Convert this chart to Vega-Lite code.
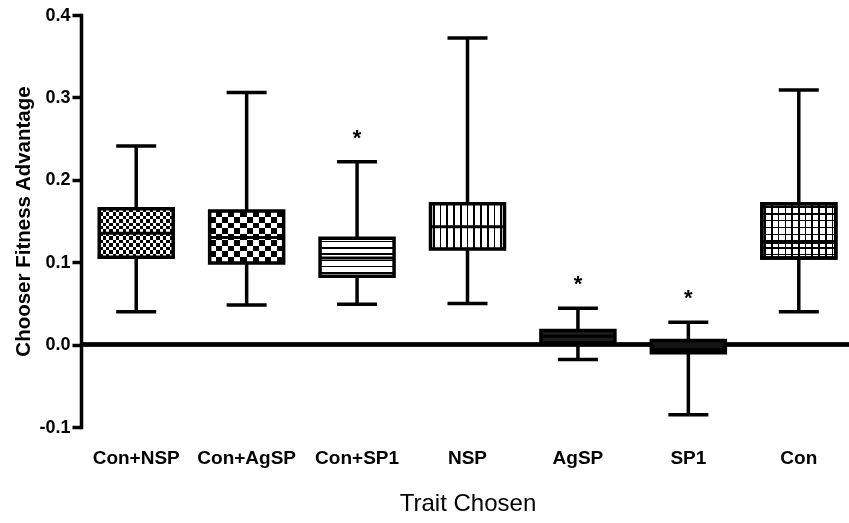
{
  "$schema": "https://vega.github.io/schema/vega-lite/v6.json",
  "width": 768,
  "height": 412,
  "autosize": {"type": "none"},
  "padding": {"left": 81, "top": 15, "right": 0, "bottom": 96},
  "background": "white",
  "config": {
    "view": {"stroke": null},
    "font": "Liberation Sans",
    "axis": {"grid": false}
  },
  "data": {
    "values": [
      {"trait": "Con+NSP", "min": 0.040, "q1": 0.106, "median": 0.135, "q3": 0.165, "max": 0.241, "sig": ""},
      {"trait": "Con+AgSP", "min": 0.048, "q1": 0.099, "median": 0.130, "q3": 0.162, "max": 0.306, "sig": ""},
      {"trait": "Con+SP1", "min": 0.049, "q1": 0.083, "median": 0.105, "q3": 0.129, "max": 0.222, "sig": "*"},
      {"trait": "NSP", "min": 0.050, "q1": 0.116, "median": 0.143, "q3": 0.171, "max": 0.372, "sig": ""},
      {"trait": "AgSP", "min": -0.018, "q1": 0.002, "median": 0.010, "q3": 0.017, "max": 0.044, "sig": "*"},
      {"trait": "SP1", "min": -0.085, "q1": -0.010, "median": -0.006, "q3": 0.005, "max": 0.027, "sig": "*"},
      {"trait": "Con", "min": 0.040, "q1": 0.105, "median": 0.124, "q3": 0.171, "max": 0.309, "sig": ""}
    ]
  },
  "encoding": {
    "x": {
      "field": "trait",
      "type": "nominal",
      "sort": null,
      "scale": {"range": [0, 773], "paddingInner": 0, "paddingOuter": 0},
      "axis": {
        "title": "Trait Chosen",
        "domain": false,
        "ticks": false,
        "labelAngle": 0,
        "labelFont": "Liberation Sans",
        "labelFontWeight": "bold",
        "labelFontSize": 19,
        "labelColor": "black",
        "labelPadding": 21,
        "titleFont": "Liberation Sans",
        "titleFontWeight": "normal",
        "titleFontSize": 24,
        "titleColor": "black",
        "titlePadding": 24
      }
    }
  },
  "layer": [
    {
      "mark": {"type": "rule", "color": "black", "strokeWidth": 3.5},
      "encoding": {
        "x": null,
        "y": {
          "datum": 0,
          "type": "quantitative",
          "scale": {"domain": [-0.1, 0.4], "nice": false, "zero": false},
          "axis": {
            "title": "Chooser Fitness Advantage",
            "values": [-0.1, 0, 0.1, 0.2, 0.3, 0.4],
            "format": ".1f",
            "labelExpr": "replace(datum.label, '\u2212', '-')",
            "domainColor": "black",
            "domainWidth": 3.5,
            "domainCap": "square",
            "tickColor": "black",
            "tickWidth": 3.5,
            "tickSize": 9,
            "labelFont": "Liberation Sans",
            "labelFontWeight": "bold",
            "labelFontSize": 18,
            "labelColor": "black",
            "labelPadding": 2,
            "titleFont": "Liberation Sans",
            "titleFontWeight": "bold",
            "titleFontSize": 20.5,
            "titleColor": "black",
            "titlePadding": 5
          }
        }
      }
    },
    {
      "mark": {"type": "rule", "color": "black", "strokeWidth": 3.5},
      "encoding": {
        "y": {"field": "min", "type": "quantitative"},
        "y2": {"field": "max"}
      }
    },
    {
      "mark": {"type": "tick", "color": "black", "size": 40, "thickness": 3.5, "opacity": 1},
      "encoding": {"y": {"field": "min", "type": "quantitative"}}
    },
    {
      "mark": {"type": "tick", "color": "black", "size": 40, "thickness": 3.5, "opacity": 1},
      "encoding": {"y": {"field": "max", "type": "quantitative"}}
    },
    {
      "transform": [{"filter": "datum.trait === 'Con+NSP'"}],
      "mark": {
        "type": "bar", "width": 74, "stroke": "black", "strokeWidth": 3.5,
        "fill": {
          "gradient": "linear", "x1": 0, "y1": 0, "x2": 1, "y2": 0,
          "stops": [
            {"offset": 0, "color": "white"}, {"offset": 0.0455, "color": "white"},
            {"offset": 0.0455, "color": "black"}, {"offset": 0.0909, "color": "black"},
            {"offset": 0.0909, "color": "white"}, {"offset": 0.1364, "color": "white"},
            {"offset": 0.1364, "color": "black"}, {"offset": 0.1818, "color": "black"},
            {"offset": 0.1818, "color": "white"}, {"offset": 0.2273, "color": "white"},
            {"offset": 0.2273, "color": "black"}, {"offset": 0.2727, "color": "black"},
            {"offset": 0.2727, "color": "white"}, {"offset": 0.3182, "color": "white"},
            {"offset": 0.3182, "color": "black"}, {"offset": 0.3636, "color": "black"},
            {"offset": 0.3636, "color": "white"}, {"offset": 0.4091, "color": "white"},
            {"offset": 0.4091, "color": "black"}, {"offset": 0.4545, "color": "black"},
            {"offset": 0.4545, "color": "white"}, {"offset": 0.5, "color": "white"},
            {"offset": 0.5, "color": "black"}, {"offset": 0.5455, "color": "black"},
            {"offset": 0.5455, "color": "white"}, {"offset": 0.5909, "color": "white"},
            {"offset": 0.5909, "color": "black"}, {"offset": 0.6364, "color": "black"},
            {"offset": 0.6364, "color": "white"}, {"offset": 0.6818, "color": "white"},
            {"offset": 0.6818, "color": "black"}, {"offset": 0.7273, "color": "black"},
            {"offset": 0.7273, "color": "white"}, {"offset": 0.7727, "color": "white"},
            {"offset": 0.7727, "color": "black"}, {"offset": 0.8182, "color": "black"},
            {"offset": 0.8182, "color": "white"}, {"offset": 0.8636, "color": "white"},
            {"offset": 0.8636, "color": "black"}, {"offset": 0.9091, "color": "black"},
            {"offset": 0.9091, "color": "white"}, {"offset": 0.9545, "color": "white"},
            {"offset": 0.9545, "color": "black"}, {"offset": 1, "color": "black"}
          ]
        }
      },
      "encoding": {"y": {"field": "q1", "type": "quantitative"}, "y2": {"field": "q3"}}
    },
    {
      "transform": [{"filter": "datum.trait === 'Con+NSP'"}],
      "mark": {
        "type": "bar", "width": 74, "stroke": "black", "strokeWidth": 3.5, "blend": "difference",
        "fill": {
          "gradient": "linear", "x1": 0, "y1": 0, "x2": 0, "y2": 1,
          "stops": [
            {"offset": 0, "color": "black"}, {"offset": 0.0714, "color": "black"},
            {"offset": 0.0714, "color": "white"}, {"offset": 0.1429, "color": "white"},
            {"offset": 0.1429, "color": "black"}, {"offset": 0.2143, "color": "black"},
            {"offset": 0.2143, "color": "white"}, {"offset": 0.2857, "color": "white"},
            {"offset": 0.2857, "color": "black"}, {"offset": 0.3571, "color": "black"},
            {"offset": 0.3571, "color": "white"}, {"offset": 0.4286, "color": "white"},
            {"offset": 0.4286, "color": "black"}, {"offset": 0.5, "color": "black"},
            {"offset": 0.5, "color": "white"}, {"offset": 0.5714, "color": "white"},
            {"offset": 0.5714, "color": "black"}, {"offset": 0.6429, "color": "black"},
            {"offset": 0.6429, "color": "white"}, {"offset": 0.7143, "color": "white"},
            {"offset": 0.7143, "color": "black"}, {"offset": 0.7857, "color": "black"},
            {"offset": 0.7857, "color": "white"}, {"offset": 0.8571, "color": "white"},
            {"offset": 0.8571, "color": "black"}, {"offset": 0.9286, "color": "black"},
            {"offset": 0.9286, "color": "white"}, {"offset": 1, "color": "white"}
          ]
        }
      },
      "encoding": {"y": {"field": "q1", "type": "quantitative"}, "y2": {"field": "q3"}}
    },
    {
      "transform": [{"filter": "datum.trait === 'Con+AgSP'"}],
      "mark": {
        "type": "bar", "width": 74, "stroke": "black", "strokeWidth": 3.5,
        "fill": {
          "gradient": "linear", "x1": 0, "y1": 0, "x2": 1, "y2": 0,
          "stops": [
            {"offset": 0, "color": "white"}, {"offset": 0.0833, "color": "white"},
            {"offset": 0.0833, "color": "black"}, {"offset": 0.1667, "color": "black"},
            {"offset": 0.1667, "color": "white"}, {"offset": 0.25, "color": "white"},
            {"offset": 0.25, "color": "black"}, {"offset": 0.3333, "color": "black"},
            {"offset": 0.3333, "color": "white"}, {"offset": 0.4167, "color": "white"},
            {"offset": 0.4167, "color": "black"}, {"offset": 0.5, "color": "black"},
            {"offset": 0.5, "color": "white"}, {"offset": 0.5833, "color": "white"},
            {"offset": 0.5833, "color": "black"}, {"offset": 0.6667, "color": "black"},
            {"offset": 0.6667, "color": "white"}, {"offset": 0.75, "color": "white"},
            {"offset": 0.75, "color": "black"}, {"offset": 0.8333, "color": "black"},
            {"offset": 0.8333, "color": "white"}, {"offset": 0.9167, "color": "white"},
            {"offset": 0.9167, "color": "black"}, {"offset": 1, "color": "black"}
          ]
        }
      },
      "encoding": {"y": {"field": "q1", "type": "quantitative"}, "y2": {"field": "q3"}}
    },
    {
      "transform": [{"filter": "datum.trait === 'Con+AgSP'"}],
      "mark": {
        "type": "bar", "width": 74, "stroke": "black", "strokeWidth": 3.5, "blend": "difference",
        "fill": {
          "gradient": "linear", "x1": 0, "y1": 0, "x2": 0, "y2": 1,
          "stops": [
            {"offset": 0, "color": "black"}, {"offset": 0.1111, "color": "black"},
            {"offset": 0.1111, "color": "white"}, {"offset": 0.2222, "color": "white"},
            {"offset": 0.2222, "color": "black"}, {"offset": 0.3333, "color": "black"},
            {"offset": 0.3333, "color": "white"}, {"offset": 0.4444, "color": "white"},
            {"offset": 0.4444, "color": "black"}, {"offset": 0.5556, "color": "black"},
            {"offset": 0.5556, "color": "white"}, {"offset": 0.6667, "color": "white"},
            {"offset": 0.6667, "color": "black"}, {"offset": 0.7778, "color": "black"},
            {"offset": 0.7778, "color": "white"}, {"offset": 0.8889, "color": "white"},
            {"offset": 0.8889, "color": "black"}, {"offset": 1, "color": "black"}
          ]
        }
      },
      "encoding": {"y": {"field": "q1", "type": "quantitative"}, "y2": {"field": "q3"}}
    },
    {
      "transform": [{"filter": "datum.trait === 'Con+SP1'"}],
      "mark": {
        "type": "bar", "width": 74, "stroke": "black", "strokeWidth": 3.5,
        "fill": {
          "gradient": "linear", "x1": 0, "y1": 0, "x2": 0, "y2": 1,
          "stops": [
            {"offset": 0, "color": "white"}, {"offset": 0.063, "color": "white"},
            {"offset": 0.063, "color": "black"}, {"offset": 0.103, "color": "black"},
            {"offset": 0.103, "color": "white"}, {"offset": 0.23, "color": "white"},
            {"offset": 0.23, "color": "black"}, {"offset": 0.27, "color": "black"},
            {"offset": 0.27, "color": "white"}, {"offset": 0.397, "color": "white"},
            {"offset": 0.397, "color": "black"}, {"offset": 0.437, "color": "black"},
            {"offset": 0.437, "color": "white"}, {"offset": 0.563, "color": "white"},
            {"offset": 0.563, "color": "black"}, {"offset": 0.603, "color": "black"},
            {"offset": 0.603, "color": "white"}, {"offset": 0.73, "color": "white"},
            {"offset": 0.73, "color": "black"}, {"offset": 0.77, "color": "black"},
            {"offset": 0.77, "color": "white"}, {"offset": 0.897, "color": "white"},
            {"offset": 0.897, "color": "black"}, {"offset": 0.937, "color": "black"},
            {"offset": 0.937, "color": "white"}, {"offset": 1, "color": "white"}
          ]
        }
      },
      "encoding": {"y": {"field": "q1", "type": "quantitative"}, "y2": {"field": "q3"}}
    },
    {
      "transform": [{"filter": "datum.trait === 'NSP'"}],
      "mark": {
        "type": "bar", "width": 74, "stroke": "black", "strokeWidth": 3.5,
        "fill": {
          "gradient": "linear", "x1": 0, "y1": 0, "x2": 1, "y2": 0,
          "stops": [
            {"offset": 0, "color": "white"}, {"offset": 0.034, "color": "white"},
            {"offset": 0.034, "color": "black"}, {"offset": 0.057, "color": "black"},
            {"offset": 0.057, "color": "white"}, {"offset": 0.125, "color": "white"},
            {"offset": 0.125, "color": "black"}, {"offset": 0.148, "color": "black"},
            {"offset": 0.148, "color": "white"}, {"offset": 0.216, "color": "white"},
            {"offset": 0.216, "color": "black"}, {"offset": 0.239, "color": "black"},
            {"offset": 0.239, "color": "white"}, {"offset": 0.307, "color": "white"},
            {"offset": 0.307, "color": "black"}, {"offset": 0.33, "color": "black"},
            {"offset": 0.33, "color": "white"}, {"offset": 0.398, "color": "white"},
            {"offset": 0.398, "color": "black"}, {"offset": 0.421, "color": "black"},
            {"offset": 0.421, "color": "white"}, {"offset": 0.489, "color": "white"},
            {"offset": 0.489, "color": "black"}, {"offset": 0.512, "color": "black"},
            {"offset": 0.512, "color": "white"}, {"offset": 0.58, "color": "white"},
            {"offset": 0.58, "color": "black"}, {"offset": 0.603, "color": "black"},
            {"offset": 0.603, "color": "white"}, {"offset": 0.671, "color": "white"},
            {"offset": 0.671, "color": "black"}, {"offset": 0.694, "color": "black"},
            {"offset": 0.694, "color": "white"}, {"offset": 0.762, "color": "white"},
            {"offset": 0.762, "color": "black"}, {"offset": 0.785, "color": "black"},
            {"offset": 0.785, "color": "white"}, {"offset": 0.853, "color": "white"},
            {"offset": 0.853, "color": "black"}, {"offset": 0.876, "color": "black"},
            {"offset": 0.876, "color": "white"}, {"offset": 0.944, "color": "white"},
            {"offset": 0.944, "color": "black"}, {"offset": 0.967, "color": "black"},
            {"offset": 0.967, "color": "white"}, {"offset": 1, "color": "white"}
          ]
        }
      },
      "encoding": {"y": {"field": "q1", "type": "quantitative"}, "y2": {"field": "q3"}}
    },
    {
      "transform": [{"filter": "datum.trait === 'AgSP'"}],
      "mark": {"type": "bar", "width": 74, "fill": "#1c1c1c", "stroke": "black", "strokeWidth": 3.5},
      "encoding": {"y": {"field": "q1", "type": "quantitative"}, "y2": {"field": "q3"}}
    },
    {
      "transform": [{"filter": "datum.trait === 'SP1'"}],
      "mark": {"type": "bar", "width": 74, "fill": "#141414", "stroke": "black", "strokeWidth": 3.5},
      "encoding": {"y": {"field": "q1", "type": "quantitative"}, "y2": {"field": "q3"}}
    },
    {
      "transform": [{"filter": "datum.trait === 'Con'"}],
      "mark": {
        "type": "bar", "width": 74, "stroke": "black", "strokeWidth": 3.5,
        "fill": {
          "gradient": "linear", "x1": 0, "y1": 0, "x2": 1, "y2": 0,
          "stops": [
            {"offset": 0, "color": "white"}, {"offset": 0.034, "color": "white"},
            {"offset": 0.034, "color": "black"}, {"offset": 0.057, "color": "black"},
            {"offset": 0.057, "color": "white"}, {"offset": 0.125, "color": "white"},
            {"offset": 0.125, "color": "black"}, {"offset": 0.148, "color": "black"},
            {"offset": 0.148, "color": "white"}, {"offset": 0.216, "color": "white"},
            {"offset": 0.216, "color": "black"}, {"offset": 0.239, "color": "black"},
            {"offset": 0.239, "color": "white"}, {"offset": 0.307, "color": "white"},
            {"offset": 0.307, "color": "black"}, {"offset": 0.33, "color": "black"},
            {"offset": 0.33, "color": "white"}, {"offset": 0.398, "color": "white"},
            {"offset": 0.398, "color": "black"}, {"offset": 0.421, "color": "black"},
            {"offset": 0.421, "color": "white"}, {"offset": 0.489, "color": "white"},
            {"offset": 0.489, "color": "black"}, {"offset": 0.512, "color": "black"},
            {"offset": 0.512, "color": "white"}, {"offset": 0.58, "color": "white"},
            {"offset": 0.58, "color": "black"}, {"offset": 0.603, "color": "black"},
            {"offset": 0.603, "color": "white"}, {"offset": 0.671, "color": "white"},
            {"offset": 0.671, "color": "black"}, {"offset": 0.694, "color": "black"},
            {"offset": 0.694, "color": "white"}, {"offset": 0.762, "color": "white"},
            {"offset": 0.762, "color": "black"}, {"offset": 0.785, "color": "black"},
            {"offset": 0.785, "color": "white"}, {"offset": 0.853, "color": "white"},
            {"offset": 0.853, "color": "black"}, {"offset": 0.876, "color": "black"},
            {"offset": 0.876, "color": "white"}, {"offset": 0.944, "color": "white"},
            {"offset": 0.944, "color": "black"}, {"offset": 0.967, "color": "black"},
            {"offset": 0.967, "color": "white"}, {"offset": 1, "color": "white"}
          ]
        }
      },
      "encoding": {"y": {"field": "q1", "type": "quantitative"}, "y2": {"field": "q3"}}
    },
    {
      "transform": [{"filter": "datum.trait === 'Con'"}],
      "mark": {
        "type": "bar", "width": 74, "stroke": "black", "strokeWidth": 3.5,
        "fill": {
          "gradient": "linear", "x1": 0, "y1": 0, "x2": 0, "y2": 1,
          "stops": [
            {"offset": 0, "color": "transparent"}, {"offset": 0.05, "color": "transparent"},
            {"offset": 0.05, "color": "black"}, {"offset": 0.075, "color": "black"},
            {"offset": 0.075, "color": "transparent"}, {"offset": 0.175, "color": "transparent"},
            {"offset": 0.175, "color": "black"}, {"offset": 0.2, "color": "black"},
            {"offset": 0.2, "color": "transparent"}, {"offset": 0.3, "color": "transparent"},
            {"offset": 0.3, "color": "black"}, {"offset": 0.325, "color": "black"},
            {"offset": 0.325, "color": "transparent"}, {"offset": 0.425, "color": "transparent"},
            {"offset": 0.425, "color": "black"}, {"offset": 0.45, "color": "black"},
            {"offset": 0.45, "color": "transparent"}, {"offset": 0.55, "color": "transparent"},
            {"offset": 0.55, "color": "black"}, {"offset": 0.575, "color": "black"},
            {"offset": 0.575, "color": "transparent"}, {"offset": 0.675, "color": "transparent"},
            {"offset": 0.675, "color": "black"}, {"offset": 0.7, "color": "black"},
            {"offset": 0.7, "color": "transparent"}, {"offset": 0.8, "color": "transparent"},
            {"offset": 0.8, "color": "black"}, {"offset": 0.825, "color": "black"},
            {"offset": 0.825, "color": "transparent"}, {"offset": 0.925, "color": "transparent"},
            {"offset": 0.925, "color": "black"}, {"offset": 0.95, "color": "black"},
            {"offset": 0.95, "color": "transparent"}, {"offset": 1, "color": "transparent"}
          ]
        }
      },
      "encoding": {"y": {"field": "q1", "type": "quantitative"}, "y2": {"field": "q3"}}
    },
    {
      "mark": {"type": "tick", "color": "black", "size": 74, "thickness": 3, "opacity": 1},
      "encoding": {"y": {"field": "median", "type": "quantitative"}}
    },
    {
      "transform": [{"filter": "datum.sig !== ''"}],
      "mark": {"type": "text", "fontSize": 22, "fontWeight": "bold", "color": "black", "dy": -24, "font": "Liberation Sans"},
      "encoding": {
        "y": {"field": "max", "type": "quantitative"},
        "text": {"field": "sig"}
      }
    }
  ]
}
